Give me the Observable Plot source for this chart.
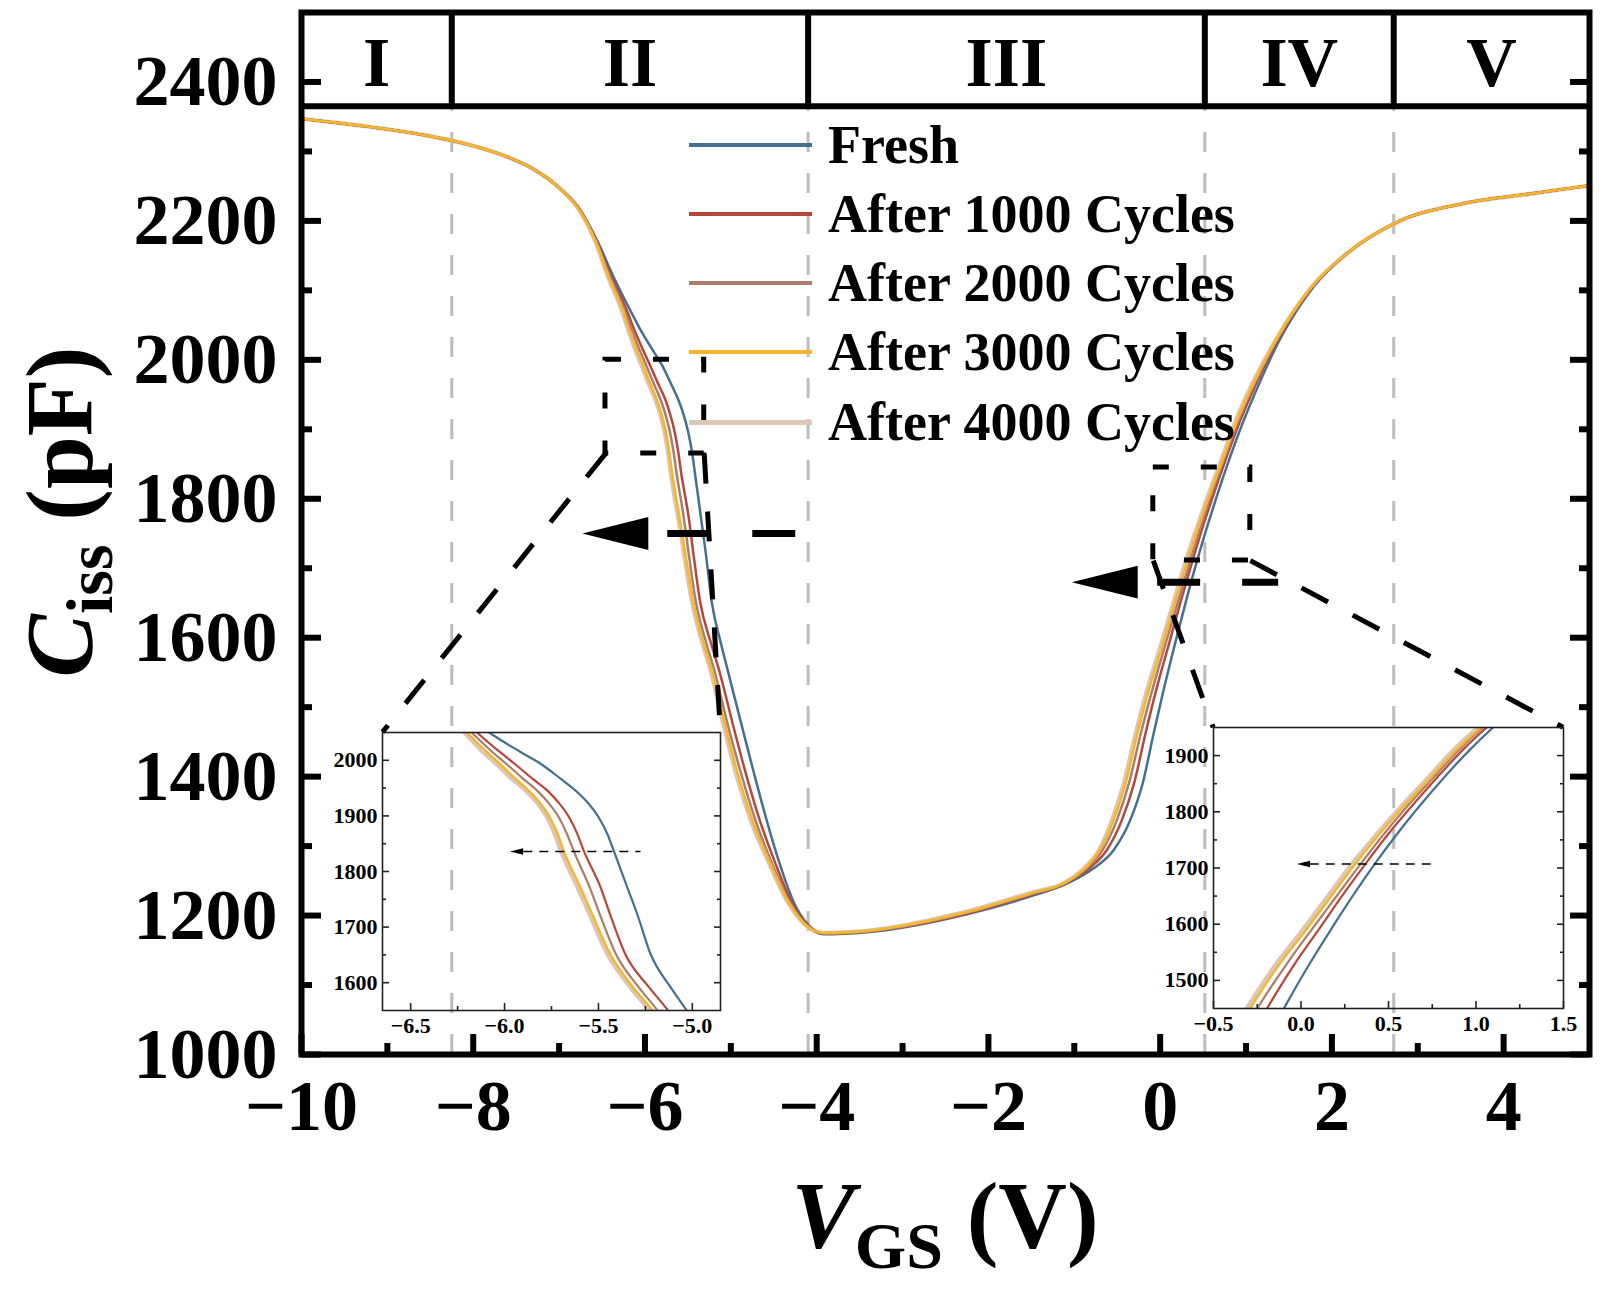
<!DOCTYPE html>
<html>
<head>
<meta charset="utf-8">
<script src="https://cdn.jsdelivr.net/npm/d3@7"></script>
<script src="https://cdn.jsdelivr.net/npm/@observablehq/plot@0.6"></script>
<style>
  html, body { margin: 0; padding: 0; background: #fff; }
  #wrap { position: relative; width: 1607px; height: 1290px; overflow: hidden; font-family: "Liberation Serif", "Times New Roman", serif; }
  #wrap > svg, #wrap > div.ov { position: absolute; }
  .legrow { position: absolute; display: flex; align-items: center; height: 60px; }
  .legrow .sw { width: 123px; }
  .legrow .lab { margin-left: 16px; font-size: 54px; font-weight: bold; white-space: nowrap; color: #000; }
</style>
</head>
<body>
<div id="wrap"></div>
<script>
const FONT = "'Liberation Serif', 'Times New Roman', serif";

// ---------- series ----------
const seriesNames = ["Fresh", "After 1000 Cycles", "After 2000 Cycles", "After 3000 Cycles", "After 4000 Cycles"];
const seriesColors = ["#45708f", "#b7473a", "#a97e6c", "#f6b62b", "#dcc6b5"];
const seriesWidths = [2.5, 2.5, 2.5, 2.6, 4.2];
const insetWidths = [2.2, 2.2, 2.2, 2.4, 4.2];
const drawOrder = [4, 0, 1, 2, 3]; // light 4000-cycle band underneath

// common plateau (accumulation side)
const headX = [-10, -9.5, -9, -8.5, -8, -7.6, -7.334, -6.985];
const headY = [2347, 2340, 2332, 2322, 2308, 2292, 2277, 2246];

// falling edge: shared C levels, per-series voltages
const descentY = [2215, 2172, 2119, 2071, 2045, 2015, 1992, 1967, 1945, 1925, 1898, 1868, 1837, 1772, 1724, 1652, 1592, 1553, 1472, 1400, 1336, 1278, 1220, 1188];
const freshDescentX = [-6.752, -6.558, -6.364, -6.17, -6.06, -5.915, -5.80, -5.702, -5.62, -5.56, -5.50, -5.453, -5.418, -5.347, -5.294, -5.223, -5.116, -5.036, -4.87, -4.72, -4.58, -4.44, -4.27, -4.11];
const c1000DescentX = [-6.752, -6.568, -6.389, -6.21, -6.13, -6.025, -5.94, -5.852, -5.77, -5.715, -5.657, -5.613, -5.578, -5.489, -5.439, -5.358, -5.231, -5.136, -4.97, -4.815, -4.66, -4.49, -4.295, -4.12];
const c2000DescentX = [-6.752, -6.573, -6.404, -6.235, -6.16, -6.065, -5.985, -5.902, -5.825, -5.77, -5.712, -5.668, -5.632, -5.547, -5.494, -5.408, -5.286, -5.192, -5.03, -4.87, -4.71, -4.53, -4.315, -4.13];
const c3000DescentX = [-6.762, -6.578, -6.419, -6.255, -6.185, -6.095, -6.02, -5.942, -5.87, -5.815, -5.76, -5.718, -5.685, -5.597, -5.534, -5.438, -5.316, -5.219, -5.06, -4.91, -4.745, -4.55, -4.33, -4.14];
const c4000DescentX = [-6.762, -6.583, -6.429, -6.27, -6.2, -6.115, -6.04, -5.962, -5.885, -5.83, -5.775, -5.733, -5.70, -5.612, -5.549, -5.453, -5.331, -5.236, -5.08, -4.93, -4.765, -4.565, -4.34, -4.145];

// valley
const bottomX = [-3.92, -3.415, -2.25, -1.474];
const freshBottomY = [1173, 1176, 1202, 1229];
const c1000BottomY = [1174, 1177, 1203, 1231];
const c2000BottomY = [1174, 1177, 1204, 1232];
const c3000BottomY = [1175, 1178, 1205, 1233];
const c4000BottomY = [1175, 1178, 1206, 1234];

// rising edge
const riseY = [1246, 1268, 1294, 1337, 1392, 1460, 1530, 1590, 1657, 1711, 1761, 1800, 1862, 1912, 1965, 2030, 2105, 2153];
const freshRiseX = [-1.086, -0.776, -0.543, -0.35, -0.20, -0.08, 0.05, 0.17, 0.31, 0.43, 0.55, 0.65, 0.82, 0.97, 1.15, 1.397, 1.785, 2.173];
const c1000RiseX = [-1.106, -0.826, -0.623, -0.447, -0.30, -0.175, -0.035, 0.10, 0.25, 0.377, 0.50, 0.605, 0.78, 0.93, 1.115, 1.377, 1.775, 2.173];
const c2000RiseX = [-1.116, -0.856, -0.673, -0.505, -0.36, -0.23, -0.08, 0.06, 0.22, 0.35, 0.475, 0.58, 0.76, 0.908, 1.095, 1.367, 1.77, 2.173];
const c3000RiseX = [-1.126, -0.876, -0.703, -0.544, -0.40, -0.27, -0.12, 0.03, 0.19, 0.32, 0.45, 0.56, 0.745, 0.895, 1.085, 1.357, 1.765, 2.173];
const c4000RiseX = [-1.131, -0.886, -0.713, -0.563, -0.42, -0.29, -0.14, 0.01, 0.17, 0.30, 0.435, 0.545, 0.73, 0.878, 1.07, 1.352, 1.765, 2.173];

// common plateau (inversion side)
const tailX = [2.755, 3.53, 4.307, 5.0];
const tailY = [2198, 2225, 2239, 2251];

// ---------- regions & ticks ----------
const regionLabels = ["I", "II", "III", "IV", "V"];
const regionBounds = [-8.25, -4.1, 0.52, 2.72];
const bandBottom = 2365;
const regionLabelY = 2426;

const xMajor = [-10, -8, -6, -4, -2, 0, 2, 4];
const xMinor = [-9, -7, -5, -3, -1, 1, 3];
const yMajor = [1000, 1200, 1400, 1600, 1800, 2000, 2200, 2400];
const yMinor = [1100, 1300, 1500, 1700, 1900, 2100, 2300];

// ---------- annotations (data coordinates of the main chart) ----------
const zoomBoxes = [
  {x1: -6.46, x2: -5.31, y1: 1865, y2: 2000},
  {x1: -0.08, x2: 1.05, y1: 1711, y2: 1845}
];
const connectors = [
  {x1: -6.46, y1: 1865, x2: -9.057, y2: 1464},
  {x1: -5.31, y1: 1865, x2: -5.122, y2: 1464},
  {x1: -0.08, y1: 1711, x2: 0.617, y2: 1471},
  {x1: 1.05, y1: 1711, x2: 4.692, y2: 1471}
];
const mainArrowHeads = [{x: -6.345, y: 1750}, {x: -0.646, y: 1680}];
const mainArrowLines = [{x1: -5.74, x2: -4.25, y: 1750}, {x1: -0.035, x2: 1.374, y: 1680}];

// ---------- inset settings ----------
const inset1X = [-6.65, -4.85], inset1Y = [1550, 2050];
const inset1XMajor = [-6.5, -6.0, -5.5, -5.0], inset1XMinor = [-6.25, -5.75, -5.25];
const inset1YMajor = [1600, 1700, 1800, 1900, 2000], inset1YMinor = [1650, 1750, 1850, 1950];
const inset1ArrowHead = [{x: -5.936, y: 1836}], inset1ArrowLine = [{x1: -5.90, x2: -5.276, y: 1836}];

const inset2X = [-0.5, 1.5], inset2Y = [1450, 1950];
const inset2XMajor = [-0.5, 0.0, 0.5, 1.0, 1.5], inset2XMinor = [-0.25, 0.25, 0.75, 1.25];
const inset2YMajor = [1500, 1600, 1700, 1800, 1900], inset2YMinor = [1550, 1650, 1750, 1850];
const inset2ArrowHead = [{x: 0.014, y: 1707}], inset2ArrowLine = [{x1: 0.05, x2: 0.77, y: 1707}];

// ---------- build table ----------
const descentXs = [freshDescentX, c1000DescentX, c2000DescentX, c3000DescentX, c4000DescentX];
const bottomYs = [freshBottomY, c1000BottomY, c2000BottomY, c3000BottomY, c4000BottomY];
const riseXs = [freshRiseX, c1000RiseX, c2000RiseX, c3000RiseX, c4000RiseX];

const table = seriesNames.flatMap((name, i) => [
  ...headX.map((x, j) => ({series: name, x, y: headY[j]})),
  ...descentY.map((y, j) => ({series: name, x: descentXs[i][j], y})),
  ...bottomX.map((x, j) => ({series: name, x, y: bottomYs[i][j]})),
  ...riseY.map((y, j) => ({series: name, x: riseXs[i][j], y})),
  ...tailX.map((x, j) => ({series: name, x, y: tailY[j]}))
]);

const edges = [-10, ...regionBounds, 5];
const regions = regionLabels.map((label, i) => ({label, x: (edges[i] + edges[i + 1]) / 2}));

const leftTriangle = {
  draw(ctx, size) {
    const s = Math.sqrt(size);
    ctx.moveTo(-s, 0);
    ctx.lineTo(s, -s / 2);
    ctx.lineTo(s, s / 2);
    ctx.closePath();
  }
};

function curveMarks(widths, clip) {
  return drawOrder.map(i =>
    Plot.line(table.filter(d => d.series === seriesNames[i]), {
      x: "x", y: "y", stroke: seriesColors[i], strokeWidth: widths[i],
      curve: "monotone-x", clip
    })
  );
}

// ---------- main chart ----------
const main = Plot.plot({
  width: 1607, height: 1290,
  marginTop: 12, marginRight: 18, marginBottom: 236, marginLeft: 301,
  x: {domain: [-10, 5], label: null},
  y: {domain: [1000, 2500], label: null},
  style: {fontFamily: FONT, background: "transparent", overflow: "visible"},
  marks: [
    Plot.ruleX(regionBounds, {y1: 1000, y2: bandBottom, stroke: "#bdbdbd", strokeWidth: 3, strokeDasharray: "20,21"}),
    ...curveMarks(seriesWidths, false),
    Plot.rect(zoomBoxes, {x1: "x1", x2: "x2", y1: "y1", y2: "y2", fill: "none", stroke: "black", strokeWidth: 5, strokeDasharray: "16,32"}),
    Plot.link(connectors, {x1: "x1", y1: "y1", x2: "x2", y2: "y2", stroke: "black", strokeWidth: 5, strokeDasharray: "30,28"}),
    Plot.link(mainArrowLines, {x1: "x1", x2: "x2", y1: "y", y2: "y", stroke: "black", strokeWidth: 7, strokeDasharray: "43,42"}),
    Plot.dot(mainArrowHeads, {x: "x", y: "y", symbol: leftTriangle, r: 18.6, fill: "black", stroke: "none"}),
    Plot.ruleY([bandBottom], {stroke: "black", strokeWidth: 6}),
    Plot.ruleX(regionBounds, {y1: bandBottom, y2: 2500, stroke: "black", strokeWidth: 6}),
    Plot.text(regions, {x: "x", y: regionLabelY, text: "label", fontSize: 70, fontWeight: "bold", fontFamily: FONT, fill: "black"}),
    Plot.frame({stroke: "black", strokeWidth: 6}),
    Plot.axisX({anchor: "bottom", ticks: xMajor, tickSize: -20, strokeWidth: 6, tickFormat: () => "", label: null}),
    Plot.axisX({anchor: "bottom", ticks: xMinor, tickSize: -11, strokeWidth: 6, tickFormat: () => "", label: null}),
    Plot.axisX({anchor: "bottom", ticks: xMajor, tickSize: 0, tickPadding: 24, tickFormat: d3.format("d"), fontSize: 72, fontWeight: "bold", fontFamily: FONT, label: null}),
    Plot.axisY({anchor: "left", ticks: yMajor, tickSize: -20, strokeWidth: 6, tickFormat: () => "", label: null}),
    Plot.axisY({anchor: "left", ticks: yMinor, tickSize: -11, strokeWidth: 6, tickFormat: () => "", label: null}),
    Plot.axisY({anchor: "right", ticks: yMajor, tickSize: -20, strokeWidth: 6, tickFormat: () => "", label: null}),
    Plot.axisY({anchor: "right", ticks: yMinor, tickSize: -11, strokeWidth: 6, tickFormat: () => "", label: null}),
    Plot.axisY({anchor: "left", ticks: yMajor, tickSize: 0, tickPadding: 24, tickFormat: d3.format("d"), fontSize: 72, fontWeight: "bold", fontFamily: FONT, label: null})
  ]
});
main.style.left = "0px";
main.style.top = "0px";

// axis titles with italic symbols and subscripts
const yTitleParts = {sym: "C", sub: "iss", unit: " (pF)"};
const xTitleParts = {sym: "V", sub: "GS", unit: " (V)"};
const svgSel = d3.select(main);
function addTitle(parts, transform) {
  const t = svgSel.append("text")
    .attr("transform", transform)
    .attr("text-anchor", "middle")
    .attr("font-family", FONT)
    .attr("font-weight", "bold")
    .attr("font-size", 95)
    .attr("fill", "black");
  t.append("tspan").attr("font-style", "italic").text(parts.sym);
  t.append("tspan").attr("font-size", 66).attr("dy", 20).text(parts.sub);
  t.append("tspan").attr("dy", -20).text(parts.unit);
}
addTitle(yTitleParts, "translate(92,512) rotate(-90)");
addTitle(xTitleParts, "translate(945,1248)");

// ---------- insets ----------
function makeInset(o) {
  const fmt = d3.format(".1f");
  return Plot.plot({
    width: o.w + o.ml + o.mr, height: o.h + o.mt + o.mb,
    marginLeft: o.ml, marginRight: o.mr, marginTop: o.mt, marginBottom: o.mb,
    x: {domain: o.xd, label: null},
    y: {domain: o.yd, label: null},
    style: {fontFamily: FONT, background: "transparent", overflow: "visible"},
    marks: [
      ...curveMarks(insetWidths, true),
      Plot.link(o.arrowLine, {x1: "x1", x2: "x2", y1: "y", y2: "y", stroke: "black", strokeWidth: 1.6, strokeDasharray: "9,7"}),
      Plot.dot(o.arrowHead, {x: "x", y: "y", symbol: leftTriangle, r: 3.7, fill: "black", stroke: "none"}),
      Plot.frame({stroke: "#222", strokeWidth: 1.6}),
      Plot.axisX({anchor: "bottom", ticks: o.xMajor, tickSize: -7, strokeWidth: 1.6, stroke: "#222", tickFormat: () => "", label: null}),
      Plot.axisX({anchor: "bottom", ticks: o.xMinor, tickSize: -4, strokeWidth: 1.6, stroke: "#222", tickFormat: () => "", label: null}),
      Plot.axisX({anchor: "bottom", ticks: o.xMajor, tickSize: 0, tickPadding: 7, tickFormat: fmt, fontSize: 22, fontWeight: "bold", fontFamily: FONT, label: null}),
      Plot.axisY({anchor: "left", ticks: o.yMajor, tickSize: -7, strokeWidth: 1.6, stroke: "#222", tickFormat: () => "", label: null}),
      Plot.axisY({anchor: "left", ticks: o.yMinor, tickSize: -4, strokeWidth: 1.6, stroke: "#222", tickFormat: () => "", label: null}),
      Plot.axisY({anchor: "right", ticks: o.yMajor, tickSize: -7, strokeWidth: 1.6, stroke: "#222", tickFormat: () => "", label: null}),
      Plot.axisY({anchor: "right", ticks: o.yMinor, tickSize: -4, strokeWidth: 1.6, stroke: "#222", tickFormat: () => "", label: null}),
      Plot.axisY({anchor: "left", ticks: o.yMajor, tickSize: 0, tickPadding: 5, tickFormat: d3.format("d"), fontSize: 22, fontWeight: "bold", fontFamily: FONT, label: null})
    ]
  });
}

const inset1 = makeInset({
  w: 338, h: 278, ml: 60, mr: 4, mt: 4, mb: 36,
  xd: inset1X, yd: inset1Y,
  xMajor: inset1XMajor, xMinor: inset1XMinor, yMajor: inset1YMajor, yMinor: inset1YMinor,
  arrowHead: inset1ArrowHead, arrowLine: inset1ArrowLine
});
inset1.style.left = (382 - 60) + "px";
inset1.style.top = (732 - 4) + "px";

const inset2 = makeInset({
  w: 350, h: 281, ml: 60, mr: 22, mt: 4, mb: 36,
  xd: inset2X, yd: inset2Y,
  xMajor: inset2XMajor, xMinor: inset2XMinor, yMajor: inset2YMajor, yMinor: inset2YMinor,
  arrowHead: inset2ArrowHead, arrowLine: inset2ArrowLine
});
inset2.style.left = (1213 - 60) + "px";
inset2.style.top = (727 - 4) + "px";

// ---------- legend ----------
const legendRowY = [145, 214, 283, 352, 422];
const legend = document.createElement("div");
legend.className = "ov";
legend.style.left = "0px";
legend.style.top = "0px";
seriesNames.forEach((name, i) => {
  const row = document.createElement("div");
  row.className = "legrow";
  row.style.left = "689px";
  row.style.top = (legendRowY[i] - 30) + "px";
  const sw = document.createElement("div");
  sw.className = "sw";
  sw.style.height = (i === 4 ? 5 : 4) + "px";
  sw.style.background = seriesColors[i];
  const lab = document.createElement("div");
  lab.className = "lab";
  lab.textContent = name;
  row.appendChild(sw);
  row.appendChild(lab);
  legend.appendChild(row);
});

const wrap = document.getElementById("wrap");
wrap.appendChild(main);
wrap.appendChild(inset1);
wrap.appendChild(inset2);
wrap.appendChild(legend);
</script>
</body>
</html>
